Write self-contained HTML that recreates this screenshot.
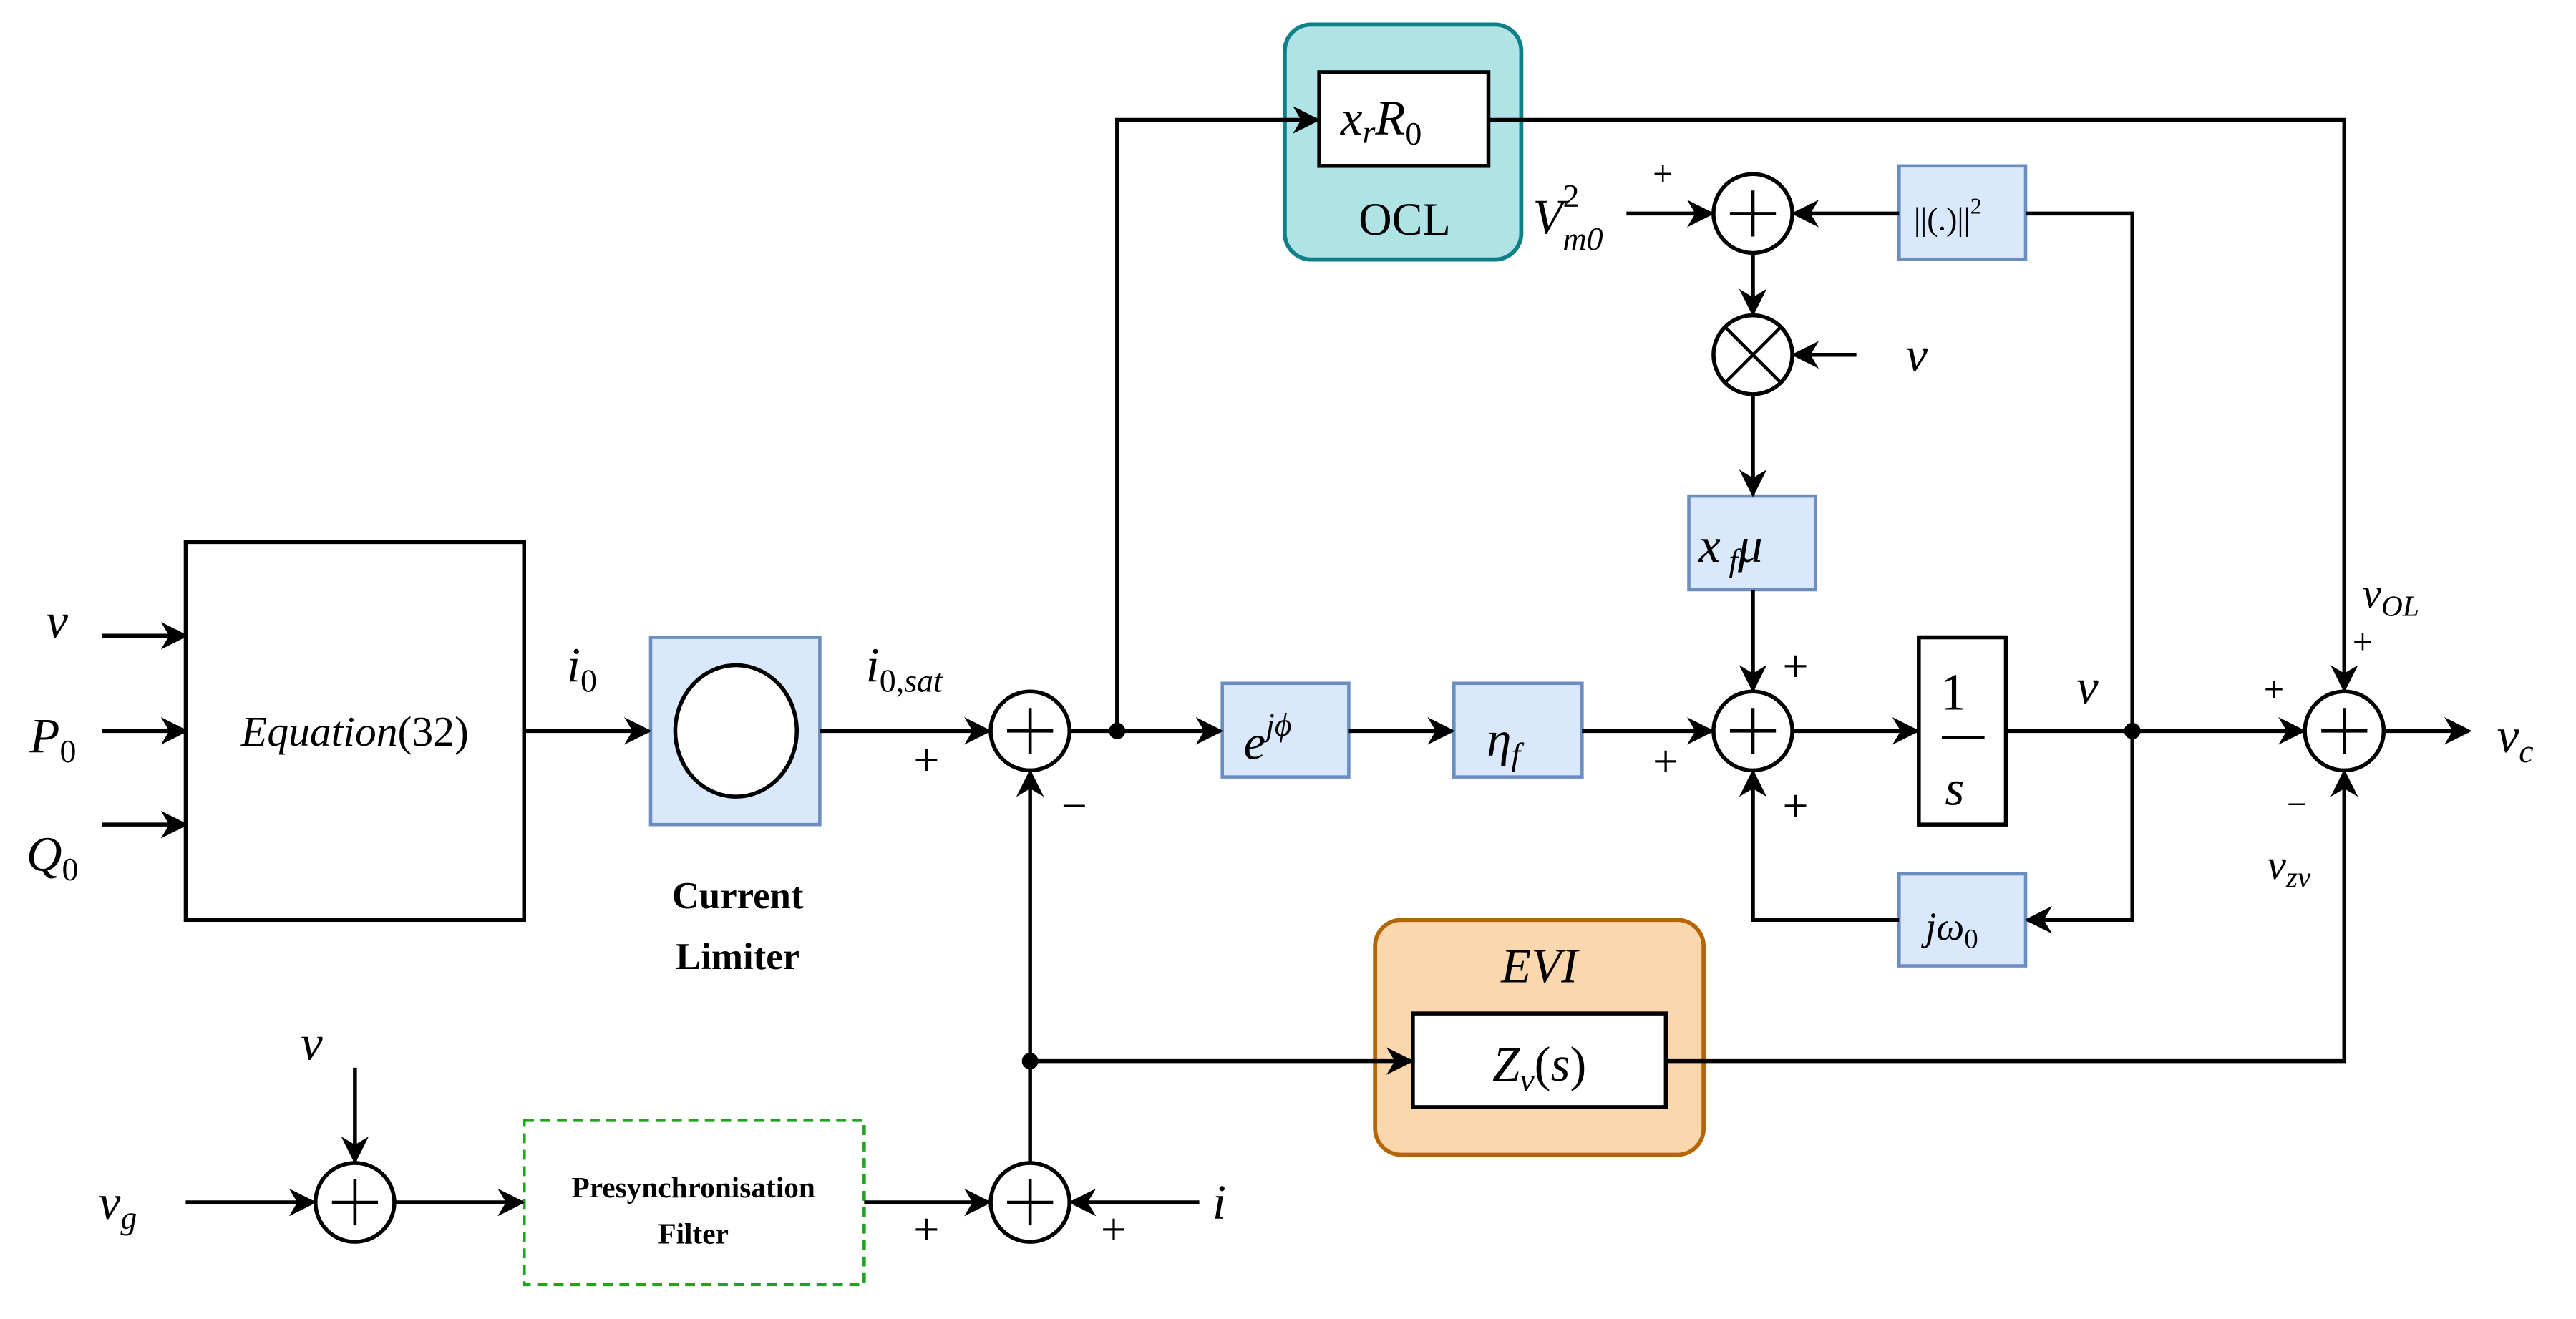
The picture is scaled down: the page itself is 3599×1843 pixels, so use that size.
<!DOCTYPE html>
<html><head><meta charset="utf-8"><style>
html,body{margin:0;padding:0;background:#fff}
svg{display:block}
text{font-family:"Liberation Serif",serif;fill:#000}
.m{font-style:italic}
</style></head><body>
<svg width="3599" height="1843" viewBox="0 0 1568 803" xmlns="http://www.w3.org/2000/svg">
<defs>
<marker id="a" viewBox="0 0 10 10" refX="9" refY="5" markerWidth="7" markerHeight="7" orient="auto" markerUnits="strokeWidth">
<path d="M0,0 L10,5 L0,10 L3,5 z" fill="#000"/></marker>
</defs>
<!-- boxes -->
<rect x="113" y="330" width="206" height="230" fill="#fff" stroke="#000" stroke-width="2.4"/>
<rect x="396" y="388" width="103" height="114" fill="#dae8fc" stroke="#6c8ebf" stroke-width="2"/>
<ellipse cx="448" cy="445" rx="37" ry="40" fill="#fff" stroke="#000" stroke-width="2.4"/>
<rect x="782" y="15" width="144" height="143" rx="16" fill="#b0e3e6" stroke="#0e8088" stroke-width="2.5"/>
<rect x="803" y="44" width="103" height="57" fill="#fff" stroke="#000" stroke-width="2.4"/>
<rect x="744" y="416" width="77" height="57" fill="#dae8fc" stroke="#6c8ebf" stroke-width="2"/>
<rect x="885" y="416" width="78" height="57" fill="#dae8fc" stroke="#6c8ebf" stroke-width="2"/>
<rect x="1168" y="388" width="53" height="114" fill="#fff" stroke="#000" stroke-width="2.4"/>
<line x1="1182" y1="449" x2="1208" y2="449" stroke="#000" stroke-width="1.5"/>
<rect x="1156" y="532" width="77" height="56" fill="#dae8fc" stroke="#6c8ebf" stroke-width="2"/>
<rect x="1156" y="101" width="77" height="57" fill="#dae8fc" stroke="#6c8ebf" stroke-width="2"/>
<rect x="1028" y="302" width="77" height="57" fill="#dae8fc" stroke="#6c8ebf" stroke-width="2"/>
<rect x="837" y="560" width="200" height="143" rx="16" fill="#fad7ac" stroke="#b46504" stroke-width="2.5"/>
<rect x="860" y="617" width="154" height="57" fill="#fff" stroke="#000" stroke-width="2.4"/>
<rect x="319" y="682" width="207" height="100" fill="none" stroke="#1ea51e" stroke-width="2" stroke-dasharray="6,4"/>
<g fill="none" stroke="#000" stroke-width="2.4">
<line x1="62" y1="387" x2="113" y2="387" marker-end="url(#a)"/>
<line x1="62" y1="445" x2="113" y2="445" marker-end="url(#a)"/>
<line x1="62" y1="502" x2="113" y2="502" marker-end="url(#a)"/>
<line x1="319" y1="445" x2="395" y2="445" marker-end="url(#a)"/>
<line x1="499" y1="445" x2="602" y2="445" marker-end="url(#a)"/>
<line x1="651" y1="445" x2="743" y2="445" marker-end="url(#a)"/>
<polyline points="680,445 680,73 802,73" marker-end="url(#a)"/>
<polyline points="906,73 1427,73 1427,420" marker-end="url(#a)"/>
<line x1="821" y1="445" x2="884" y2="445" marker-end="url(#a)"/>
<line x1="963" y1="445" x2="1042" y2="445" marker-end="url(#a)"/>
<line x1="1091" y1="445" x2="1167" y2="445" marker-end="url(#a)"/>
<line x1="1221" y1="445" x2="1402" y2="445" marker-end="url(#a)"/>
<line x1="1451" y1="445" x2="1503" y2="445" marker-end="url(#a)"/>
<polyline points="1298,445 1298,560 1234,560" marker-end="url(#a)"/>
<polyline points="1156,560 1067,560 1067,470" marker-end="url(#a)"/>
<polyline points="1298,445 1298,130 1233,130"/>
<line x1="1156" y1="130" x2="1092" y2="130" marker-end="url(#a)"/>
<line x1="990" y1="130" x2="1042" y2="130" marker-end="url(#a)"/>
<line x1="1067" y1="154" x2="1067" y2="191" marker-end="url(#a)"/>
<line x1="1130" y1="216" x2="1092" y2="216" marker-end="url(#a)"/>
<line x1="1067" y1="240" x2="1067" y2="301" marker-end="url(#a)"/>
<line x1="1067" y1="359" x2="1067" y2="420" marker-end="url(#a)"/>
<line x1="627" y1="708" x2="627" y2="470" marker-end="url(#a)"/>
<line x1="627" y1="646" x2="859" y2="646" marker-end="url(#a)"/>
<polyline points="1014,646 1427,646 1427,470" marker-end="url(#a)"/>
<line x1="113" y1="732" x2="191" y2="732" marker-end="url(#a)"/>
<line x1="216" y1="650" x2="216" y2="707" marker-end="url(#a)"/>
<line x1="240" y1="732" x2="318" y2="732" marker-end="url(#a)"/>
<line x1="526" y1="732" x2="602" y2="732" marker-end="url(#a)"/>
<line x1="730" y1="732" x2="652" y2="732" marker-end="url(#a)"/>
</g>
<!-- sums -->
<g fill="#fff" stroke="#000" stroke-width="2.4">
<circle cx="627" cy="445" r="24"/><circle cx="1067" cy="445" r="24"/><circle cx="1427" cy="445" r="24"/>
<circle cx="1067" cy="130" r="24"/><circle cx="1067" cy="216" r="24"/>
<circle cx="216" cy="732" r="24"/><circle cx="627" cy="732" r="24"/>
</g>
<g stroke="#000" stroke-width="2">
<path d="M627,431v28M613,445h28"/><path d="M1067,431v28M1053,445h28"/><path d="M1427,431v28M1413,445h28"/>
<path d="M1067,116v28M1053,130h28"/><path d="M1050,199l34,34M1084,199l-34,34"/>
<path d="M216,718v28M202,732h28"/><path d="M627,718v28M613,732h28"/>
</g>
<g fill="#000"><circle cx="680" cy="445" r="5"/><circle cx="1298" cy="445" r="5"/><circle cx="627" cy="646" r="5"/></g>
<!-- text -->
<g font-size="30">
<text x="28" y="388" class="m">v</text>
<text x="18" y="458" class="m">P<tspan font-size="20" font-style="normal" dy="6">0</tspan></text>
<text x="16" y="530" class="m">Q<tspan font-size="20" font-style="normal" dy="6">0</tspan></text>
<text x="216" y="454" font-size="26" text-anchor="middle"><tspan class="m">Equation</tspan>(32)</text>
<text x="345" y="415" class="m">i<tspan font-size="20" font-style="normal" dy="6">0</tspan></text>
<text x="527" y="415" class="m">i<tspan font-size="20" dy="6"><tspan font-style="normal">0,</tspan><tspan class="m">sat</tspan></tspan></text>
<text x="449" y="553" font-size="23" font-weight="bold" text-anchor="middle">Current</text>
<text x="449" y="590" font-size="23" font-weight="bold" text-anchor="middle">Limiter</text>
<text x="816" y="82" class="m">x<tspan font-size="20" dy="5">r</tspan><tspan dy="-5">R</tspan><tspan font-size="20" font-style="normal" dy="6">0</tspan></text>
<text x="855" y="143" font-family="Liberation Sans,sans-serif" font-size="28" text-anchor="middle">OCL</text>
<text x="757" y="462" class="m">e<tspan font-size="20" dy="-14">jϕ</tspan></text>
<text x="905" y="460" class="m">η<tspan font-size="20" dy="6">f</tspan></text>
<text x="1034" y="342" class="m">x<tspan font-size="20" dy="6"> f</tspan><tspan dy="-6">μ</tspan></text>
<text x="1181" y="432" font-size="32">1</text>
<text x="1184" y="490" class="m">s</text>
<text x="1264" y="428" class="m">v</text>
<text x="1520" y="458" class="m">v<tspan font-size="20" dy="6">c</tspan></text>
<text x="1165" y="140" font-size="20" fill="#334">||(.)||<tspan font-size="14" dy="-10">2</tspan></text>
<text x="1172" y="572" font-size="24" class="m">jω<tspan font-size="17" font-style="normal" dy="5">0</tspan></text>
<text x="933" y="142" class="m">V<tspan font-size="20" dy="-16" font-style="normal">2</tspan><tspan font-size="20" dy="26" dx="-10">m0</tspan></text>
<text x="1160" y="226" class="m">v</text>
<text x="1438" y="370" font-size="26" class="m">v<tspan font-size="18" dy="5">OL</tspan></text>
<text x="1380" y="535" font-size="26" class="m">v<tspan font-size="18" dy="5">zv</tspan></text>
<text x="937" y="598" class="m" text-anchor="middle">EVI</text>
<text x="937" y="658" text-anchor="middle"><tspan class="m">Z</tspan><tspan font-size="20" class="m" dy="6">v</tspan><tspan dy="-6">(</tspan><tspan class="m">s</tspan>)</text>
<text x="60" y="742" class="m">v<tspan font-size="20" dy="6">g</tspan></text>
<text x="183" y="645" class="m">v</text>
<text x="738" y="742" class="m">i</text>
<text x="422" y="729" font-size="18" font-weight="bold" text-anchor="middle">Presynchronisation</text>
<text x="422" y="757" font-size="18" font-weight="bold" text-anchor="middle">Filter</text>
</g>
<g font-size="28" font-family="Liberation Sans,sans-serif" fill="#000">
<text x="556" y="472">+</text><text x="646" y="500">−</text>
<text x="1006" y="473">+</text><text x="1085" y="415">+</text><text x="1085" y="500">+</text>
<text x="1006" y="113" font-size="22">+</text>
<text x="1432" y="398" font-size="22">+</text><text x="1378" y="427" font-size="22">+</text><text x="1392" y="497" font-size="22">−</text>
<text x="556" y="758">+</text><text x="670" y="758">+</text>
</g>
</svg>
</body></html>
